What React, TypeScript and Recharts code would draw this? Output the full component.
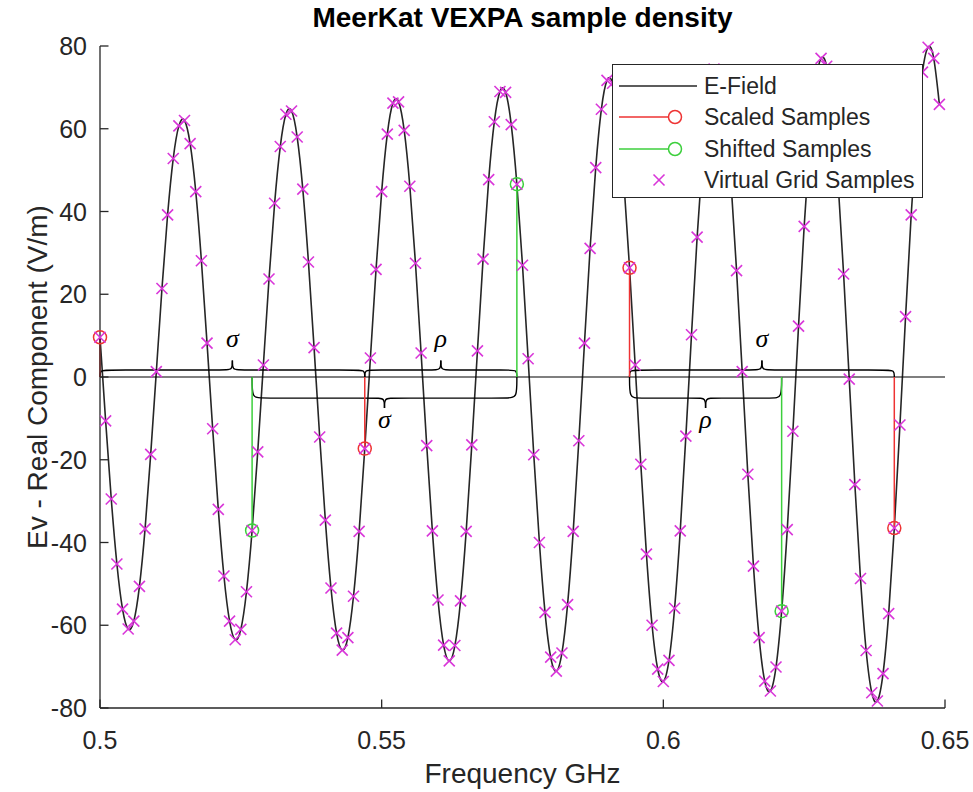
import React from 'react';
import { ComposedChart, Line, Scatter, XAxis, YAxis, ReferenceLine, Legend } from 'recharts';

const FONT = "'Liberation Sans', Arial, Helvetica, sans-serif";
const SERIF = "'Liberation Serif', 'Times New Roman', serif";
const AXIS = '#262626';
const FIELD = '#262626';
const RED = '#ee3333';
const GREEN = '#3ccf3c';
const MAGENTA = '#d936d9';

// virtual grid: 0.500 .. 0.649 GHz in 1 MHz steps
const gridStart = 0.5;
const gridStep = 0.001;

const eField = [
  9.6, -10.6, -29.5, -45.2, -56.1, -60.9, -59.0, -50.6, -36.7, -18.7,
  1.3, 21.4, 39.2, 52.8, 60.7, 62.0, 56.4, 44.8, 28.1, 8.2,
  -12.5, -32.0, -48.1, -59.0, -63.5, -61.0, -51.9, -37.1, -18.1, 2.9,
  23.7, 42.0, 55.7, 63.5, 64.3, 58.0, 45.4, 27.8, 7.1, -14.5,
  -34.6, -51.0, -61.9, -66.0, -63.0, -53.0, -37.3, -17.3, 4.6, 26.0,
  44.8, 58.7, 66.2, 66.5, 59.6, 46.1, 27.5, 5.8, -16.6, -37.2,
  -53.9, -64.8, -68.6, -64.9, -54.1, -37.3, -16.4, 6.3, 28.5, 47.7,
  61.7, 69.0, 68.8, 61.0, 46.6, 27.0, 4.4, -18.8, -40.0, -56.9,
  -67.7, -71.1, -66.7, -55.0, -37.3, -15.4, 8.2, 31.1, 50.6, 64.7,
  71.7, 71.0, 62.4, 47.0, 26.4, 2.9, -21.1, -42.8, -60.0, -70.6,
  -73.6, -68.5, -55.9, -37.2, -14.3, 10.2, 33.8, 53.6, 67.7, 74.4,
  73.1, 63.7, 47.3, 25.7, 1.3, -23.5, -45.7, -63.0, -73.5, -75.9,
  -70.1, -56.6, -36.9, -13.1, 12.3, 36.4, 56.7, 70.7, 77.0, 75.1,
  64.8, 47.5, 24.9, -0.5, -26.0, -48.7, -66.1, -76.3, -78.3, -71.7,
  -57.2, -36.5, -11.6, 14.6, 39.2, 59.7, 73.7, 79.7, 77.0, 65.9,
];

const scaledFreq = [0.5, 0.547, 0.594, 0.641];
const scaledVal = [9.6, -17.3, 26.4, -36.5];
const shiftedFreq = [0.527, 0.574, 0.621];
const shiftedVal = [-37.1, 46.6, -56.6];

// brace annotations on the zero line
const braceFrom = [0.5, 0.547, 0.527, 0.594, 0.594];
const braceTo = [0.547, 0.574, 0.574, 0.641, 0.621];
const braceSymbol = ['σ', 'ρ', 'σ', 'σ', 'ρ'];
const braceSide = ['up', 'up', 'down', 'up', 'down'];

const xTicks = [0.5, 0.55, 0.6, 0.65];
const yTicks = [-80, -60, -40, -20, 0, 20, 40, 60, 80];
const legendLabels = ['E-Field', 'Scaled Samples', 'Shifted Samples', 'Virtual Grid Samples'];

const fieldPoints = eField.map((y, i) => ({ x: +(gridStart + i * gridStep).toFixed(3), y }));
const scaledPoints = scaledFreq.map((x, i) => ({ x, y: scaledVal[i] }));
const shiftedPoints = shiftedFreq.map((x, i) => ({ x, y: shiftedVal[i] }));

const BRACE_GEOM: Record<string, { h: number; tip: number; label: number }> = {
  up: { h: 1.7, tip: 4.0, label: 8.6 },
  down: { h: -5.1, tip: -7.5, label: -10.9 },
};
const BRACE_R = 0.0013;

function braceHalves(from: number, to: number, side: string) {
  const g = BRACE_GEOM[side];
  const mid = (from + to) / 2;
  return [
    [
      { x: from, y: 0 }, { x: from, y: g.h }, { x: from + BRACE_R, y: g.h },
      { x: mid - BRACE_R, y: g.h }, { x: mid, y: g.h }, { x: mid, y: g.tip },
    ],
    [
      { x: mid, y: g.tip }, { x: mid, y: g.h }, { x: mid + BRACE_R, y: g.h },
      { x: to - BRACE_R, y: g.h }, { x: to, y: g.h }, { x: to, y: 0 },
    ],
  ];
}

const bracePaths = braceFrom.flatMap((f, i) => braceHalves(f, braceTo[i], braceSide[i]));
const braceLabels = braceFrom.map((f, i) => ({
  x: (f + braceTo[i]) / 2,
  y: BRACE_GEOM[braceSide[i]].label,
  t: braceSymbol[i],
}));

function XMark({ cx, cy }: { cx: number; cy: number }) {
  const s = 5.5;
  return (
    <g stroke={MAGENTA} strokeWidth={1.6}>
      <line x1={cx - s} y1={cy - s} x2={cx + s} y2={cy + s} />
      <line x1={cx - s} y1={cy + s} x2={cx + s} y2={cy - s} />
    </g>
  );
}

function XTick(props: any) {
  const { x, y, payload } = props;
  return (
    <g>
      <line x1={x} y1={y} x2={x} y2={y - 8.5} stroke={AXIS} strokeWidth={1.3} />
      <text x={x} y={y + 41} textAnchor="middle" fontFamily={FONT} fontSize={25} fill={AXIS}>
        {String(payload.value)}
      </text>
    </g>
  );
}

function YTick(props: any) {
  const { x, y, payload } = props;
  return (
    <g>
      <line x1={x} y1={y} x2={x + 8.5} y2={y} stroke={AXIS} strokeWidth={1.3} />
      <text x={x - 13} y={y + 9} textAnchor="end" fontFamily={FONT} fontSize={25} fill={AXIS}>
        {String(payload.value)}
      </text>
    </g>
  );
}

function LegendBox() {
  const rows = [22, 53, 85, 116];
  return (
    <div
      style={{
        position: 'relative', width: 311, height: 134, boxSizing: 'border-box',
        border: `1.3px solid ${AXIS}`, background: '#fff',
      }}
    >
      <svg width={311} height={134} style={{ position: 'absolute', left: -1.3, top: -1.3 }}>
        <line x1={7} x2={85} y1={rows[0]} y2={rows[0]} stroke={FIELD} strokeWidth={1.5} />
        <line x1={7} x2={57} y1={rows[1]} y2={rows[1]} stroke={RED} strokeWidth={1.5} />
        <circle cx={63} cy={rows[1]} r={6.5} fill="none" stroke={RED} strokeWidth={1.5} />
        <line x1={7} x2={57} y1={rows[2]} y2={rows[2]} stroke={GREEN} strokeWidth={1.5} />
        <circle cx={63} cy={rows[2]} r={6.5} fill="none" stroke={GREEN} strokeWidth={1.5} />
        <XMark cx={47} cy={rows[3]} />
      </svg>
      {legendLabels.map((t, i) => (
        <div
          key={t}
          style={{
            position: 'absolute', left: 91, top: rows[i] - 17.3, lineHeight: '32px',
            fontSize: 23, fontFamily: FONT, color: AXIS, whiteSpace: 'nowrap',
          }}
        >
          {t}
        </div>
      ))}
    </div>
  );
}

export default function App() {
  return (
    <div style={{ position: 'absolute', left: 0, top: 0, width: 973, height: 792, background: '#fff' }}>
      <div
        style={{
          position: 'absolute', left: 100, top: 2, width: 845, textAlign: 'center',
          fontFamily: FONT, fontWeight: 'bold', fontSize: 28, lineHeight: '32px', color: '#000',
        }}
      >
        MeerKat VEXPA sample density
      </div>
      <div
        style={{
          position: 'absolute', left: 100, top: 758, width: 845, textAlign: 'center',
          fontFamily: FONT, fontSize: 28, lineHeight: '32px', color: AXIS,
        }}
      >
        Frequency GHz
      </div>
      <div
        style={{
          position: 'absolute', left: 38, top: 377, transform: 'translate(-50%, -50%) rotate(-90deg)',
          fontFamily: FONT, fontSize: 28, lineHeight: '32px', color: AXIS, whiteSpace: 'nowrap',
        }}
      >
        Ev - Real Component (V/m)
      </div>
      <div style={{ position: 'absolute', left: 0, top: 0 }}>
        <ComposedChart width={973} height={792} margin={{ top: 46, right: 28, bottom: 34, left: 40 }}>
          <XAxis
            dataKey="x"
            type="number"
            domain={[0.5, 0.65]}
            ticks={xTicks}
            height={50}
            tickSize={0}
            tickMargin={0}
            tickLine={false}
            axisLine={{ stroke: AXIS, strokeWidth: 1.3 }}
            tick={<XTick />}
            interval={0}
          />
          <YAxis
            dataKey="y"
            type="number"
            domain={[-80, 80]}
            ticks={yTicks}
            width={60}
            tickSize={0}
            tickMargin={0}
            tickLine={false}
            axisLine={{ stroke: AXIS, strokeWidth: 1.3 }}
            tick={<YTick />}
            interval={0}
          />
          <Line
            data={fieldPoints}
            dataKey="y"
            type="natural"
            stroke={FIELD}
            strokeWidth={1.6}
            dot={false}
            isAnimationActive={false}
          />
          <ReferenceLine y={0} stroke="#000" strokeWidth={1.2} />
          {bracePaths.map((pts, i) => (
            <Line
              key={'brace' + i}
              data={pts}
              dataKey="y"
              type="basis"
              stroke="#000"
              strokeWidth={1.4}
              dot={false}
              legendType="none"
              isAnimationActive={false}
            />
          ))}
          {scaledPoints.map((p, i) => (
            <Line
              key={'rs' + i}
              data={[{ x: p.x, y: 0 }, p]}
              dataKey="y"
              stroke={RED}
              strokeWidth={1.5}
              dot={false}
              legendType="none"
              isAnimationActive={false}
            />
          ))}
          {shiftedPoints.map((p, i) => (
            <Line
              key={'gs' + i}
              data={[{ x: p.x, y: 0 }, p]}
              dataKey="y"
              stroke={GREEN}
              strokeWidth={1.5}
              dot={false}
              legendType="none"
              isAnimationActive={false}
            />
          ))}
          <Scatter
            data={scaledPoints}
            dataKey="y"
            isAnimationActive={false}
            shape={(p: any) => <circle cx={p.cx} cy={p.cy} r={6.5} fill="none" stroke={RED} strokeWidth={1.5} />}
          />
          <Scatter
            data={shiftedPoints}
            dataKey="y"
            isAnimationActive={false}
            shape={(p: any) => <circle cx={p.cx} cy={p.cy} r={6.5} fill="none" stroke={GREEN} strokeWidth={1.5} />}
          />
          <Scatter
            data={fieldPoints}
            dataKey="y"
            isAnimationActive={false}
            shape={(p: any) => <XMark cx={p.cx} cy={p.cy} />}
          />
          <Scatter
            data={braceLabels}
            dataKey="y"
            isAnimationActive={false}
            legendType="none"
            shape={(p: any) => (
              <text
                x={p.cx}
                y={p.cy + 6}
                textAnchor="middle"
                fontFamily={SERIF}
                fontStyle="italic"
                fontSize={26}
                fill="#000"
              >
                {p.payload.t}
              </text>
            )}
          />
          <Legend
            layout="vertical"
            align="center"
            verticalAlign="middle"
            content={() => <LegendBox />}
            wrapperStyle={{ left: 612, top: 64, width: 311, height: 134 }}
          />
        </ComposedChart>
      </div>
    </div>
  );
}
